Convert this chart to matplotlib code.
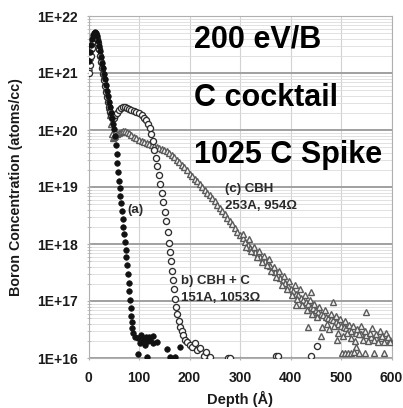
import matplotlib
matplotlib.use("Agg")
import matplotlib.pyplot as plt
from matplotlib.ticker import LogLocator, FixedLocator, NullFormatter

plt.rcParams['font.family'] = ['Liberation Sans', 'DejaVu Sans']
plt.rcParams['font.weight'] = 'bold'

# ---- data ----
# (a) filled circles
a_depth = [0, 2, 4, 6, 8, 10, 12, 14, 16, 18, 20, 22, 24, 26, 28, 30, 32, 34, 36, 38,
           40, 42, 44, 46, 48, 50, 52, 54, 55.5, 57, 58.5, 60, 61.5, 63, 64.5, 66, 67.5,
           69, 70.5, 72, 73.5, 75, 76.5, 78, 79.5, 81, 82.5, 84, 85, 86, 87, 88,
           92, 98, 104, 108, 114, 121, 127, 135, 102, 112, 120, 128, 98, 116, 155, 161, 171, 181, 118]
a_conc = [1.6e21, 2.3e21, 3.1e21, 3.9e21, 4.6e21, 5.1e21, 5.3e21, 5.0e21, 4.4e21, 3.7e21,
          3.0e21, 2.4e21, 1.9e21, 1.5e21, 1.2e21, 9.6e20, 7.7e20, 6.1e20, 4.9e20, 3.9e20,
          3.1e20, 2.5e20, 2.0e20, 1.6e20, 1.3e20, 1.05e20, 8e19, 5.5e19, 3.8e19, 2.6e19,
          1.8e19, 1.3e19, 9.5e18, 7e18, 5.2e18, 3.8e18, 2.8e18, 2.0e18, 1.5e18, 1.1e18,
          8e17, 5.8e17, 4.2e17, 3.0e17, 2.1e17, 1.5e17, 1.05e17, 7.5e16, 5.5e16, 4.2e16,
          3.3e16, 2.8e16,
          2.35e16, 2.25e16, 2.5e16, 2.1e16, 2.35e16, 2.1e16, 2.45e16, 1.9e16, 1.8e16, 1.7e16,
          2.3e16, 1.8e16, 1.17e16, 1.05e16, 1.45e16, 1.05e16, 1.05e16, 1.55e16, 2.0e16]

# (b) CBH + C, open circles
b_depth = [0, 2, 4, 6, 8, 10, 12, 14, 16, 18, 20, 22, 24, 26, 28, 30, 32, 34, 36, 38,
           40, 42, 44, 46, 48, 50, 53, 56, 60, 64, 68, 72, 76, 80, 85, 90, 95, 100, 105,
           110, 114, 118, 121, 124, 127, 130, 133, 136, 139, 142, 145, 148, 151, 154, 157,
           160, 162, 164, 166, 168, 170, 172, 174, 176, 179, 182, 185, 188, 191, 195, 200,
           205, 210, 215, 220, 228, 232, 240, 276, 280, 372, 376, 441, 452]
b_conc = [1.0e21, 1.4e21, 2.0e21, 2.8e21, 3.7e21, 4.5e21, 4.9e21, 4.7e21, 4.0e21, 3.3e21,
          2.6e21, 2.0e21, 1.55e21, 1.2e21, 9.5e20, 7.5e20, 5.9e20, 4.7e20, 3.8e20, 3.1e20,
          2.5e20, 2.1e20, 1.8e20, 1.65e20, 1.6e20, 1.65e20, 1.8e20, 2.0e20, 2.2e20, 2.4e20,
          2.5e20, 2.5e20, 2.45e20, 2.35e20, 2.25e20, 2.15e20, 2.05e20, 2.0e20, 1.85e20,
          1.65e20, 1.5e20, 1.3e20, 1.1e20, 8.5e19, 6.3e19, 4.5e19, 3.2e19, 2.3e19, 1.6e19,
          1.15e19, 8e18, 5.5e18, 3.7e18, 2.5e18, 1.6e18, 1.05e18, 7.2e17, 5.0e17, 3.4e17,
          2.3e17, 1.6e17, 1.1e17, 7.8e16, 5.8e16, 4.4e16, 3.5e16, 3.0e16, 2.5e16, 2.1e16,
          1.9e16, 1.7e16, 1.55e16, 1.8e16, 1.4e16, 1.5e16, 1.1e16, 1.25e16, 1.05e16, 1.0e16,
          1.0e16, 1.1e16, 1.1e16, 1.1e16, 1.6e16]

# (c) CBH, open triangles
c_depth = [0, 2, 4, 6, 8, 10, 12, 14, 16, 18, 20, 22, 24, 26, 28, 30, 32, 34, 36, 38,
           40, 42, 44, 46, 48, 50, 53, 56, 60, 64, 68, 72, 76, 80, 85, 90, 95, 100, 105,
           110, 115, 120, 125, 130, 135, 140, 145, 150, 155, 160, 165, 170, 175, 180, 185,
           190, 195, 200, 205, 210, 215, 220, 225, 230, 235, 240, 245, 250, 255, 260, 265,
           270, 275, 280, 285, 290, 295, 300, 305, 310, 315, 320, 325, 330, 335, 340, 345,
           350, 355, 360, 365, 370, 375, 380, 385, 390, 395, 400, 405, 410, 415, 420, 425,
           430, 435, 440, 445, 450, 455, 460, 465, 470, 475, 480, 485, 490, 495, 500, 505,
           510, 515, 520, 530, 540, 550, 560, 570, 580, 590, 598,
           305, 312, 318, 322, 328, 333, 338, 343, 348, 353, 358, 362, 368, 372, 378, 383,
           388, 393, 398, 403, 408, 411, 413, 418, 423, 428, 433, 434, 438, 441, 443, 447,
           452, 457, 461, 463, 468, 472, 476, 480, 484, 487, 491, 493, 495, 499, 503, 507,
           511, 515, 519, 523, 527, 530, 531, 535, 539, 543, 547, 550, 553, 557, 561, 565,
           569, 573, 577, 581, 585, 589, 593, 597,
           502, 508, 514, 520, 526, 535, 547, 566, 586]
c_conc = [1.3e21, 1.9e21, 2.7e21, 3.5e21, 4.3e21, 4.9e21, 5.1e21, 4.8e21, 4.2e21, 3.5e21,
          2.8e21, 2.2e21, 1.75e21, 1.4e21, 1.1e21, 8.8e20, 7.0e20, 5.5e20, 4.3e20, 3.3e20,
          2.5e20, 1.8e20, 1.25e20, 8.5e19, 7.3e19, 7.4e19, 7.8e19, 8.4e19, 9.0e19, 9.4e19,
          9.6e19, 9.5e19, 9.2e19, 8.7e19, 8.1e19, 7.6e19, 7.1e19, 6.7e19, 6.4e19, 6.1e19,
          5.9e19, 5.7e19, 5.5e19, 5.2e19, 5.0e19, 4.8e19, 4.6e19, 4.4e19, 4.2e19, 3.9e19,
          3.6e19, 3.3e19, 3.0e19, 2.7e19, 2.45e19, 2.2e19, 1.95e19, 1.7e19, 1.55e19, 1.4e19,
          1.25e19, 1.12e19, 1.0e19, 9.0e18, 8.0e18, 7.1e18, 6.3e18, 5.6e18, 4.9e18, 4.3e18,
          3.8e18, 3.3e18, 2.9e18, 2.5e18, 2.2e18, 1.9e18, 1.65e18, 1.45e18, 1.25e18, 1.1e18,
          9.6e17, 8.6e17, 7.9e17, 7.2e17, 6.6e17, 6.0e17, 5.5e17, 5.0e17, 4.6e17, 4.1e17,
          3.6e17, 3.2e17, 2.85e17, 2.55e17, 2.3e17, 2.05e17, 1.85e17, 1.65e17, 1.5e17,
          1.35e17, 1.25e17, 1.15e17, 1.05e17, 9.5e16, 8.7e16, 8e16, 7.4e16, 6.9e16, 6.4e16,
          6.0e16, 5.6e16, 5.3e16, 5.0e16, 4.8e16, 4.6e16, 4.3e16, 4.0e16, 3.7e16, 3.5e16,
          3.3e16, 3.1e16, 3.0e16, 2.8e16, 2.6e16, 2.5e16, 2.35e16, 2.25e16, 2.2e16, 2.1e16,
          2.05e16,
          1.5e18, 9e17, 1.2e18, 7.5e17, 9e17, 6e17, 7.5e17, 4.8e17, 6.2e17, 4.2e17, 5.5e17,
          3.4e17, 4e17, 2.6e17, 3.4e17, 1.9e17, 2.7e17, 1.6e17, 2.2e17, 1.3e17, 1.9e17,
          8.5e16, 1.1e17, 1.6e17, 8.5e16, 1.3e17, 7e16, 3.5e16, 1.05e17, 1.45e17, 6e16,
          8.8e16, 5.2e16, 8e16, 2.4e16, 3.5e16, 7e16, 4e16, 3.2e16, 6e16, 9.6e16, 3.6e16,
          5.5e16, 2.1e16, 2.8e16, 4.8e16, 2.4e16, 4.4e16, 2.7e16, 3.8e16, 2.2e16, 3.6e16,
          2.0e16, 1.55e16, 3.2e16, 2.6e16, 3.6e16, 2.1e16, 3.0e16, 6.5e16, 2.0e16, 2.8e16,
          3.4e16, 2.1e16, 2.6e16, 1.9e16, 3.0e16, 2.4e16, 1.9e16, 2.7e16, 2.3e16, 1.9e16,
          1.22e16, 1.22e16, 1.22e16, 1.22e16, 1.25e16, 1.22e16, 1.22e16, 1.22e16, 1.22e16]

x_ticks = [0, 100, 200, 300, 400, 500, 600]
y_ticks = [1e16, 1e17, 1e18, 1e19, 1e20, 1e21, 1e22]
y_tick_labels = ["1E+16", "1E+17", "1E+18", "1E+19", "1E+20", "1E+21", "1E+22"]

W, H = 403, 408
fig = plt.figure(figsize=(W / 100, H / 100), dpi=100)
L, R, T, B = 88.5, 391.5, 16, 358
ax = fig.add_axes([L / W, 1 - B / H, (R - L) / W, (B - T) / H])

ax.set_yscale('log')
ax.set_xlim(0, 600)
ax.set_ylim(1e16, 1e22)

ax.plot(c_depth, c_conc, linestyle='none', marker='^', ms=4.6, mfc='#f4f4f4',
        mec='#5a5a5a', mew=1.0, zorder=3)
ax.plot(b_depth, b_conc, linestyle='none', marker='o', ms=4.4, mfc='white',
        mec='#2e2e2e', mew=0.95, zorder=4)
ax.plot(a_depth, a_conc, linestyle='none', marker='o', ms=4.0, mfc='#111111',
        mec='#111111', mew=0.5, zorder=5)

ax.set_xticks(x_ticks)
ax.set_xticklabels([str(v) for v in x_ticks])
ax.yaxis.set_major_locator(FixedLocator(y_ticks))
ax.set_yticklabels(y_tick_labels)
ax.yaxis.set_minor_locator(LogLocator(base=10, subs=range(2, 10), numticks=20))
ax.yaxis.set_minor_formatter(NullFormatter())

ax.grid(which='major', axis='y', color='#a0a0a0', lw=1.4)
ax.grid(which='minor', axis='y', color='#dcdcdc', lw=0.6)
ax.grid(which='major', axis='x', color='#d2d2d2', lw=0.8)
ax.set_axisbelow(True)

for s in ax.spines.values():
    s.set_color('#b0b0b0')
    s.set_linewidth(0.8)

ax.tick_params(axis='both', which='major', labelsize=10, colors='#b0b0b0',
               labelcolor='#1a1a1a', length=3, direction='inout')
ax.tick_params(axis='y', which='minor', colors='#b8b8b8', length=3, direction='inout')
ax.tick_params(axis='x', pad=8)
ax.tick_params(axis='y', pad=6)
for lab in ax.get_xticklabels() + ax.get_yticklabels():
    lab.set_fontweight('bold')

ax.set_xlabel('Depth (Å)', fontsize=10.5, fontweight='bold', color='#1a1a1a', labelpad=4)
ax.set_ylabel('Boron Concentration (atoms/cc)', fontsize=10.3, fontweight='bold',
              color='#1a1a1a', labelpad=10)


def ftext(px, py, s, **kw):
    fig.text(px / W, 1 - py / H, s, **kw)


big = dict(fontsize=22, fontweight='bold', color='black', ha='left', va='baseline')
ftext(194, 48, '200 eV/B', **big)
ftext(194, 106, 'C cocktail', **big)
ftext(194, 163, '1025 C Spike', **big)

small = dict(fontsize=9.5, fontweight='bold', color='#2a2a2a', ha='left', va='center')
ftext(127, 210, '(a)', **small)
ftext(225, 189, '(c) CBH', **small)
ftext(225, 206, '253A, 954Ω', **small)
ftext(181, 281, 'b) CBH + C', **small)
ftext(181, 298, '151A, 1053Ω', **small)

fig.savefig('out.png', dpi=100)
